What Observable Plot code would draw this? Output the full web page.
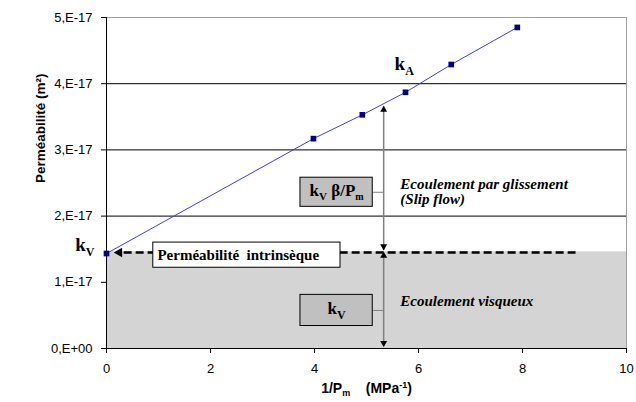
<!DOCTYPE html>
<html><head><meta charset="utf-8">
<script src="https://cdn.jsdelivr.net/npm/d3@7"></script>
<script src="https://cdn.jsdelivr.net/npm/@observablehq/plot@0.6"></script>
<style>body{margin:0;background:#fff} svg{display:block} text{white-space:pre}</style>
</head><body><div id="chart"></div>
<script>
// Data (1/Pm in MPa^-1, permeability in m²)
const invPm = [0, 3.98, 4.92, 5.75, 6.63, 7.90];
const permeability = [1.435e-17, 3.17e-17, 3.53e-17, 3.87e-17, 4.29e-17, 4.85e-17];
const xTicks = [0, 2, 4, 6, 8, 10];
const yTicks = [0, 1e-17, 2e-17, 3e-17, 4e-17, 5e-17];
const yTickLabels = ["0,E+00", "1,E-17", "2,E-17", "3,E-17", "4,E-17", "5,E-17"];
const gridY = [1e-17, 2e-17, 3e-17, 4e-17];
const kVvalue = 1.45e-17;
const shadeTop = 1.46e-17;

const points = invPm.map((x, i) => ({x, y: permeability[i]}));
const E = 1e-17;
const serif = "Liberation Serif, Times New Roman, serif";
const sans = "Liberation Sans, Arial, sans-serif";
const arrowX = 5.33;

const svg = Plot.plot({
  width: 636, height: 402,
  marginLeft: 106, marginRight: 10, marginTop: 17, marginBottom: 54,
  style: {fontFamily: sans, fontSize: "13px", background: "white", color: "black"},
  x: {domain: [0, 10], ticks: xTicks, tickFormat: d => String(d), tickSize: 5, tickPadding: 10, label: null},
  y: {domain: [0, 5e-17], ticks: yTicks, tickFormat: d => yTickLabels[yTicks.findIndex(t => Math.abs(t - d) < 1e-20)], tickSize: 5, tickPadding: 9, label: null},
  marks: [
    Plot.ruleY(gridY, {stroke: "black", strokeWidth: 1}),
    Plot.rect([{x1: 0, x2: 10, y1: 0, y2: shadeTop}], {x1: "x1", x2: "x2", y1: "y1", y2: "y2", fill: "#d4d4d4", ariaLabel: "shade"}),
    Plot.ruleY([5e-17], {stroke: "#a0a0a0"}),
    Plot.ruleX([10], {stroke: "#a0a0a0"}),
    Plot.ruleX([0], {stroke: "black"}),
    Plot.ruleY([0], {stroke: "black"}),
    // dashed intrinsic permeability line
    Plot.link([{x1: 0.33, x2: 9.02, y: kVvalue}], {x1: "x1", x2: "x2", y1: "y", y2: "y", stroke: "black", strokeWidth: 2.5, strokeDasharray: "8,4"}),
    Plot.dot([{x: 0.17, y: kVvalue}], {x: "x", y: "y", symbol: "triangle", rotate: -90, r: 3.6, fill: "black", stroke: null, dx: 4}),
    // vertical double arrows
    Plot.link([{x: arrowX, y1: 3.66 * E, y2: 1.49 * E}, {x: arrowX, y1: 1.455 * E, y2: 0.03 * E}], {x1: "x", x2: "x", y1: "y1", y2: "y2", stroke: "#808080", strokeWidth: 1.5}),
    Plot.dot([{x: arrowX, y: 3.66 * E}, {x: arrowX, y: 1.455 * E}], {x: "x", y: "y", symbol: "triangle", r: 2.6, fill: "black", stroke: null, dy: 3.5}),
    Plot.dot([{x: arrowX, y: 1.49 * E}, {x: arrowX, y: 0.03 * E}], {x: "x", y: "y", symbol: "triangle", rotate: 180, r: 2.6, fill: "black", stroke: null, dy: -3.5}),
    // connectors from boxes to arrow
    Plot.link([{x1: 5.12, x2: arrowX, y: 2.36 * E}, {x1: 5.12, x2: arrowX, y: 0.575 * E}], {x1: "x1", x2: "x2", y1: "y", y2: "y", stroke: "#808080", strokeWidth: 1}),
    // boxes
    Plot.rect([{x1: 0.9, x2: 4.5, y1: 1.22 * E, y2: 1.60 * E}], {x1: "x1", x2: "x2", y1: "y1", y2: "y2", fill: "white", stroke: "black"}),
    Plot.rect([{x1: 3.73, x2: 5.12, y1: 2.14 * E, y2: 2.58 * E}, {x1: 3.73, x2: 5.12, y1: 0.34 * E, y2: 0.81 * E}], {x1: "x1", x2: "x2", y1: "y1", y2: "y2", fill: "#c0c0c0", stroke: "black"}),
    // data
    Plot.line(points, {x: "x", y: "y", stroke: "#3c3cff", strokeWidth: 1}),
    Plot.dot(points, {x: "x", y: "y", symbol: "square", r: 3.2, fill: "#000080", stroke: null}),
    // texts
    Plot.text([{x: 0.98, y: 1.41 * E, t: "Perméabilité  intrinsèque"}], {x: "x", y: "y", text: "t", textAnchor: "start", fontFamily: serif, fontWeight: "bold", fontSize: 15}),
    Plot.text([{x: 4.425, y: 2.36 * E, t: "RICH_KVB"}, {x: 4.425, y: 0.575 * E, t: "RICH_KV"}], {x: "x", y: "y", text: "t", fontFamily: serif, fontWeight: "bold", fontSize: 17, dy: -2}),
    Plot.text([{x: 5.65, y: 2.48 * E, t: "Ecoulement par glissement"}, {x: 5.65, y: 2.25 * E, t: "(Slip flow)"}, {x: 5.65, y: 0.71 * E, t: "Ecoulement visqueux"}], {x: "x", y: "y", text: "t", textAnchor: "start", fontFamily: serif, fontWeight: "bold", fontStyle: "italic", fontSize: 15}),
    Plot.text([{x: 5.54, y: 4.3 * E, t: "RICH_KA"}], {x: "x", y: "y", text: "t", textAnchor: "start", fontFamily: serif, fontWeight: "bold", fontSize: 19}),
    Plot.text([{x: 0, y: kVvalue, t: "RICH_KV"}], {x: "x", y: "y", text: "t", textAnchor: "end", dx: -12, dy: -8, fontFamily: serif, fontWeight: "bold", fontSize: 19}),
    Plot.text(["Perméabilité (m²)"], {frameAnchor: "left", rotate: -90, dx: -66, fontFamily: sans, fontWeight: "bold", fontSize: 13.5}),
    Plot.text(["RICH_XTITLE"], {frameAnchor: "bottom", dy: 44, fontFamily: sans, fontWeight: "bold", fontSize: 14})
  ]
});

// pattern for the viscous-flow shading
const defs = d3.select(svg).insert("defs", ":first-child");
const pat = defs.append("pattern").attr("id", "dots").attr("width", 2).attr("height", 2).attr("patternUnits", "userSpaceOnUse");
pat.append("rect").attr("width", 2).attr("height", 2).attr("fill", "#e0e0e0");
pat.append("rect").attr("width", 1).attr("height", 1).attr("fill", "#a4a4a4");
d3.select(svg).selectAll("g[aria-label=shade] rect").attr("fill", "url(#dots)");

// rich text with subscripts / superscripts
const rich = {
  "RICH_KA": 'k<tspan font-size="12" dy="5">A</tspan>',
  "RICH_KV": 'k<tspan font-size="12" dy="5">V</tspan>',
  "RICH_KVB": 'k<tspan font-size="11" dy="4">V</tspan><tspan dy="-4"> β/P</tspan><tspan font-size="10" dy="4">m</tspan>',
  "RICH_XTITLE": '1/P<tspan font-size="9" dy="3">m</tspan><tspan dy="-3">    (MPa</tspan><tspan font-size="9" dy="-5">-1</tspan><tspan dy="5">)</tspan>'
};
svg.querySelectorAll("text").forEach(t => {
  const k = t.textContent;
  if (rich[k]) t.innerHTML = rich[k];
});

document.getElementById("chart").appendChild(svg);
</script>
</body></html>
